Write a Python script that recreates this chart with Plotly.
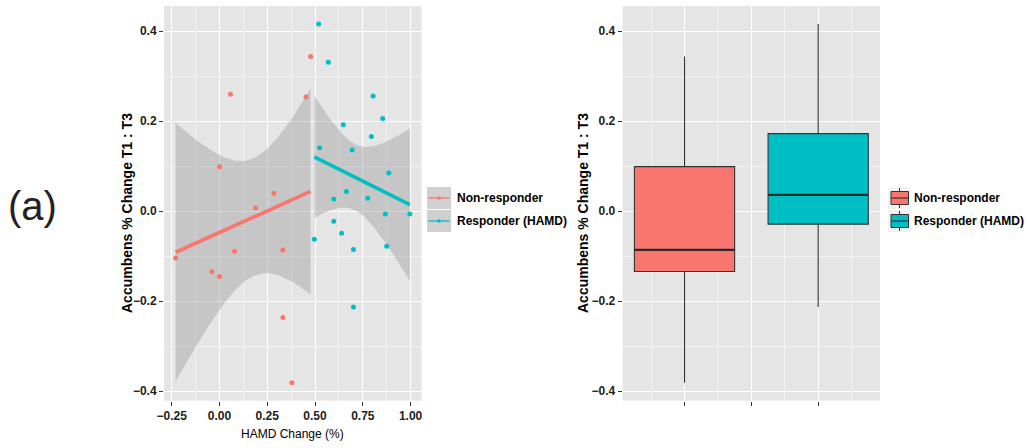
import numpy as np
import plotly.graph_objects as go

# ---- data -------------------------------------------------------------
groups = ["Non-responder", "Responder (HAMD)"]
colors = ["#F8766D", "#00BFC4"]

# HAMD change (%) and accumbens % change T1:T3 per subject
non_x = [0.058, 0.477, 0.453, 0.000, 0.285, 0.189, -0.229, 0.079, 0.332,
         -0.040, 0.000, 0.332, 0.379]
non_y = [0.260, 0.344, 0.254, 0.099, 0.040, 0.007, -0.104, -0.089, -0.086,
         -0.134, -0.145, -0.236, -0.381]
resp_x = [0.519, 0.570, 0.804, 0.854, 0.648, 0.795, 0.524, 0.694, 0.886,
          0.664, 0.598, 0.776, 0.868, 0.996, 0.598, 0.639, 0.496, 0.701,
          0.875, 0.701]
resp_y = [0.416, 0.331, 0.256, 0.206, 0.192, 0.166, 0.141, 0.136, 0.085,
          0.044, 0.027, 0.029, -0.006, -0.006, -0.022, -0.049, -0.062,
          -0.085, -0.078, -0.213]

# two-sided 95% t quantiles for n-2 degrees of freedom (11 and 18)
t_crit = [2.200985, 2.100922]

x_ticks = [-0.25, 0.0, 0.25, 0.5, 0.75, 1.0]
x_ticktext = ["\u22120.25", "0.00", "0.25", "0.50", "0.75", "1.00"]
y_ticks = [-0.4, -0.2, 0.0, 0.2, 0.4]
y_ticktext = ["\u22120.4", "\u22120.2", "0.0", "0.2", "0.4"]

W, H = 1029, 448
FONT = "Liberation Sans, Arial, Helvetica, sans-serif"
PANEL = "#E5E5E5"
INK = "#222222"


def px(v):
    return v / W


def py(v):
    return 1 - v / H


def lm_band(x, y, tq, n_grid=80):
    x = np.asarray(x, float)
    y = np.asarray(y, float)
    n = len(x)
    slope, icpt = np.polyfit(x, y, 1)
    resid = y - (icpt + slope * x)
    s = np.sqrt(np.sum(resid ** 2) / (n - 2))
    xg = np.linspace(x.min(), x.max(), n_grid)
    fit = icpt + slope * xg
    se = s * np.sqrt(1 / n + (xg - x.mean()) ** 2 / np.sum((x - x.mean()) ** 2))
    return xg, fit, fit - tq * se, fit + tq * se


fig = go.Figure()

series = [(non_x, non_y), (resp_x, resp_y)]

# ---- left panel: scatter with linear fits and 95% bands -----------------
for (gx, gy), col, tq in zip(series, colors, t_crit):
    xg, fit, lo, hi = lm_band(gx, gy, tq)
    fig.add_trace(go.Scatter(
        x=np.concatenate([xg, xg[::-1]]), y=np.concatenate([hi, lo[::-1]]),
        fill="toself", fillcolor="rgba(153,153,153,0.4)",
        line=dict(width=0), mode="lines", hoverinfo="skip",
        showlegend=False, xaxis="x", yaxis="y"))
for (gx, gy), col, tq in zip(series, colors, t_crit):
    xg, fit, lo, hi = lm_band(gx, gy, tq)
    fig.add_trace(go.Scatter(
        x=xg, y=fit, mode="lines", line=dict(color=col, width=3.6),
        showlegend=False, xaxis="x", yaxis="y"))
for (gx, gy), col in zip(series, colors):
    fig.add_trace(go.Scatter(
        x=gx, y=gy, mode="markers",
        marker=dict(color=col, size=5, line=dict(width=0)),
        showlegend=False, xaxis="x", yaxis="y"))

# ---- right panel: box plots ---------------------------------------------
box_half = 0.375
for i, ((gx, gy), col) in enumerate(zip(series, colors)):
    v = np.asarray(gy, float)
    q1, med, q3 = np.percentile(v, [25, 50, 75])
    iqr = q3 - q1
    lo_f = v[v >= q1 - 1.5 * iqr].min()
    hi_f = v[v <= q3 + 1.5 * iqr].max()
    pos = i + 1
    fig.add_trace(go.Box(
        x=[pos], q1=[q1], median=[med], q3=[q3],
        lowerfence=[lo_f], upperfence=[hi_f],
        orientation="v", width=2 * box_half, whiskerwidth=0,
        fillcolor=col, line=dict(color="#333333", width=1.1),
        boxpoints=False, showlegend=False, xaxis="x2", yaxis="y2"))
    fig.add_trace(go.Scatter(
        x=[pos - box_half, pos + box_half], y=[med, med], mode="lines",
        line=dict(color="#2a2a2a", width=2.2), hoverinfo="skip",
        showlegend=False, xaxis="x2", yaxis="y2"))

# ---- axes ----------------------------------------------------------------
tick_font = dict(family=FONT, size=12, color=INK, weight="bold")
y_dom = [py(400.7), py(6)]
grid_common = dict(showgrid=True, gridcolor="white", gridwidth=1.3,
                   zeroline=False, showline=False, ticks="outside",
                   ticklen=4, tickwidth=1, tickcolor="#333333",
                   tickfont=tick_font, automargin=False)
yaxis_cfg = dict(range=[-0.421, 0.456], tickvals=y_ticks,
                 ticktext=y_ticktext,
                 minor=dict(tickvals=[-0.3, -0.1, 0.1, 0.3], showgrid=True,
                            gridcolor="#F2F2F2", gridwidth=0.7, ticks=""),
                 domain=y_dom, **grid_common)

fig.update_layout(
    width=W, height=H,
    margin=dict(l=0, r=0, t=0, b=0),
    paper_bgcolor="white", plot_bgcolor=PANEL,
    showlegend=False,
    xaxis=dict(domain=[px(164), px(421.5)], range=[-0.29, 1.057],
               tickvals=x_ticks, ticktext=x_ticktext, anchor="y",
               minor=dict(tickvals=[-0.125, 0.125, 0.375, 0.625, 0.875],
                          showgrid=True, gridcolor="#F2F2F2",
                          gridwidth=0.7, ticks=""),
               **grid_common),
    yaxis=dict(anchor="x", **yaxis_cfg),
    xaxis2=dict(domain=[px(622.7), px(880)], range=[0.5375, 2.4625],
                tickvals=[1, 1.5, 2], showticklabels=False, anchor="y2",
                minor=dict(tickvals=[0.75, 1.25, 1.75, 2.25], showgrid=True,
                           gridcolor="#F2F2F2", gridwidth=0.7, ticks=""),
                **grid_common),
    yaxis2=dict(anchor="x2", **yaxis_cfg),
)

# ---- text ----------------------------------------------------------------
centered = dict(xref="paper", yref="paper", showarrow=False,
                xanchor="center", yanchor="middle")
ann = []
ann.append(dict(text="(a)", x=px(32), y=py(206),
                font=dict(family=FONT, size=40, color=INK), **centered))
for xc in (127, 583):
    ann.append(dict(text="Accumbens % Change T1 : T3", x=px(xc), y=py(213),
                    textangle=-90,
                    font=dict(family=FONT, size=14, color="black",
                              weight="bold"), **centered))
ann.append(dict(text="HAMD Change (%)", x=px(292.5), y=py(434),
                font=dict(family=FONT, size=12, color="black"), **centered))

shapes = []
key_rows = [(187, 209), (210, 232)]
left_text = dict(xref="paper", yref="paper", showarrow=False,
                 xanchor="left", yanchor="middle")

# left legend: line + point keys on the band fill
for (top, bot), col, name in zip(key_rows, colors, groups):
    mid = (top + bot) / 2
    shapes.append(dict(type="rect", xref="paper", yref="paper",
                       x0=px(427), x1=px(451), y0=py(bot), y1=py(top),
                       fillcolor="#D0D0D0", line=dict(width=0)))
    shapes.append(dict(type="line", xref="paper", yref="paper",
                       x0=px(428.5), x1=px(449.5), y0=py(mid), y1=py(mid),
                       line=dict(color=col, width=1.3)))
    shapes.append(dict(type="circle", xref="paper", yref="paper",
                       x0=px(437.3), x1=px(440.7), y0=py(mid + 1.7),
                       y1=py(mid - 1.7), fillcolor=col, line=dict(width=0)))
    ann.append(dict(text=name, x=px(455), y=py(mid),
                    font=dict(family=FONT, size=12, color="black",
                              weight="bold"), **left_text))

# right legend: small box-plot glyph keys
for (top, bot), col, name in zip(key_rows, colors, groups):
    mid = (top + bot) / 2
    shapes.append(dict(type="rect", xref="paper", yref="paper",
                       x0=px(888), x1=px(911), y0=py(bot), y1=py(top),
                       fillcolor="#F2F2F2", line=dict(width=0)))
    shapes.append(dict(type="line", xref="paper", yref="paper",
                       x0=px(899.5), x1=px(899.5), y0=py(bot - 1),
                       y1=py(top + 1), line=dict(color="#333333", width=1)))
    shapes.append(dict(type="rect", xref="paper", yref="paper",
                       x0=px(891), x1=px(908.5), y0=py(mid + 6.5),
                       y1=py(mid - 6.5), fillcolor=col,
                       line=dict(color="#333333", width=1)))
    shapes.append(dict(type="line", xref="paper", yref="paper",
                       x0=px(891), x1=px(908.5), y0=py(mid), y1=py(mid),
                       line=dict(color="#333333", width=1.2)))
    ann.append(dict(text=name, x=px(912), y=py(mid),
                    font=dict(family=FONT, size=12, color="black",
                              weight="bold"), **left_text))

fig.update_layout(annotations=ann, shapes=shapes)
fig.write_html("out.html")
